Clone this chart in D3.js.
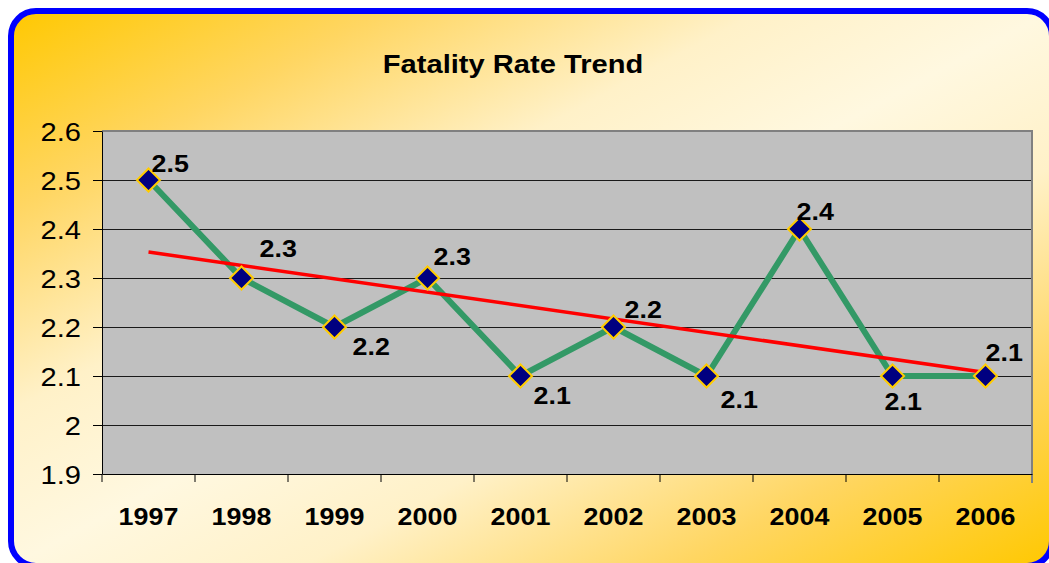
<!DOCTYPE html>
<html>
<head>
<meta charset="utf-8">
<script src="https://cdn.jsdelivr.net/npm/d3@7"></script>
<style>
  body { margin: 0; background: #fff; }
  svg { display: block; font-family: 'Liberation Sans', Arial, sans-serif; }
</style>
</head>
<body>
<svg></svg>
<script>
// chart values
let years = ['1997', '1998', '1999', '2000', '2001', '2002', '2003', '2004', '2005', '2006']
let rates = [2.5, 2.3, 2.2, 2.3, 2.1, 2.2, 2.1, 2.4, 2.1, 2.1]
let yTicks = [1.9, 2, 2.1, 2.2, 2.3, 2.4, 2.5, 2.6]
let trendEnds = [2.353, 2.107]   // linear trend at first and last year
let titleText = 'Fatality Rate Trend'

// where each value label sits relative to its marker
let labelOffsets = [[3, -8], [18, -21], [18, 28], [6, -13], [13, 28],
                    [11, -9], [14, 32], [-3, -9], [-8, 34], [0, -15]]

window.addEventListener('DOMContentLoaded', () => {
  let svgWidth = 1049
  let svgHeight = 563
  let plot = { left: 102, right: 1032, top: 131, bottom: 474 }
  let stretch = 1.12

  let svg = d3.select('svg')
      .attr('width', svgWidth)
      .attr('height', svgHeight)

  /* Background gradient */
  let grad = svg.append('defs')
    .append('linearGradient')
      .attr('id', 'bg')
      .attr('x1', 0).attr('y1', 0)
      .attr('x2', 1).attr('y2', 1)
  let stops = [[0, '#ffc800'], [0.18, '#ffd662'], [0.36, '#fff1c8'], [0.5, '#fff8e0'],
               [0.64, '#fff1c8'], [0.82, '#ffd662'], [1, '#ffc800']]
  grad.selectAll('stop')
    .data(stops)
    .enter()
    .append('stop')
      .attr('offset', d => d[0])
      .attr('stop-color', d => d[1])

  svg.append('rect')
      .attr('x', 11).attr('y', 11)
      .attr('width', 1041).attr('height', 555)
      .attr('rx', 25)
      .attr('fill', 'url(#bg)')
      .attr('stroke', '#0000ff')
      .attr('stroke-width', 6)

  /* Title */
  svg.append('text')
      .attr('transform', `translate(513, 73) scale(${stretch}, 1)`)
      .attr('text-anchor', 'middle')
      .style('font-weight', 'bold')
      .style('font-size', '26px')
      .text(titleText)

  /* Scales */
  let xScale = d3.scaleBand()
                  .domain(years)
                  .range([plot.left, plot.right])
  let xMid = d => xScale(d) + xScale.bandwidth() / 2

  let yScale = d3.scaleLinear()
                  .domain([1.9, 2.6])
                  .range([plot.bottom, plot.top])

  /* Plot area */
  svg.append('rect')
      .attr('x', plot.left)
      .attr('y', plot.top)
      .attr('width', plot.right - plot.left)
      .attr('height', plot.bottom - plot.top)
      .attr('fill', '#c0c0c0')

  /* Gridlines */
  svg.append('g')
    .selectAll('line')
    .data(yTicks.slice(1, -1))
    .enter()
    .append('line')
      .attr('x1', plot.left)
      .attr('x2', plot.right)
      .attr('y1', d => Math.round(yScale(d)) + 0.5)
      .attr('y2', d => Math.round(yScale(d)) + 0.5)
      .attr('stroke', '#1a1a1a')
      .attr('stroke-width', 1)

  /* Plot border (top and right) */
  svg.append('path')
      .attr('d', `M${plot.left},${plot.top}H${plot.right}V${plot.bottom + 9}`)
      .attr('fill', 'none')
      .attr('stroke', '#808080')
      .attr('stroke-width', 2)

  /* y-axis */
  let yAxis = d3.axisLeft(yScale)
                .tickValues(yTicks)
                .tickSize(9)
                .tickSizeOuter(0)
                .tickFormat(d3.format('~g'))
  svg.append('g')
      .attr('transform', `translate(${plot.left}, 0)`)
      .call(yAxis)
      .call(g => g.select('.domain').attr('stroke', '#000'))
    .selectAll('text')
      .attr('x', 0)
      .attr('dy', '0.35em')
      .attr('transform', `translate(-21, 0) scale(${stretch}, 1)`)
      .attr('fill', '#000')
      .style('font-size', '26px')
      .style('font-family', "'Liberation Sans', Arial, sans-serif")

  /* x-axis: labels at band centres, ticks at band edges */
  let xAxis = d3.axisBottom(xScale)
                .tickSize(0)
                .tickSizeOuter(0)
  svg.append('g')
      .attr('transform', `translate(0, ${plot.bottom})`)
      .call(xAxis)
      .call(g => g.select('.domain').attr('stroke', '#000'))
    .selectAll('text')
      .attr('y', 0)
      .attr('dy', 0)
      .attr('transform', `translate(0, 51) scale(${stretch}, 1)`)
      .attr('x', 0)
      .attr('fill', '#000')
      .style('font-size', '24px')
      .style('font-weight', 'bold')
      .style('font-family', "'Liberation Sans', Arial, sans-serif")

  svg.append('g')
    .selectAll('line')
    .data(years)
    .enter()
    .append('line')
      .attr('x1', d => xScale(d))
      .attr('x2', d => xScale(d))
      .attr('y1', plot.bottom)
      .attr('y2', plot.bottom + 8)
      .attr('stroke', '#000')

  /* Data line */
  let line = d3.line()
                .x((d, i) => xMid(years[i]))
                .y(d => yScale(d))
  svg.append('path')
      .datum(rates)
      .attr('d', line)
      .attr('fill', 'none')
      .attr('stroke', '#339966')
      .attr('stroke-width', 6)
      .attr('stroke-linejoin', 'miter')

  /* Trend line */
  svg.append('line')
      .attr('x1', xMid(years[0]))
      .attr('y1', yScale(trendEnds[0]))
      .attr('x2', xMid(years[years.length - 1]))
      .attr('y2', yScale(trendEnds[1]))
      .attr('stroke', '#ff0000')
      .attr('stroke-width', 3.5)

  /* Markers */
  let diamond = d3.symbol().type(d3.symbolDiamond2).size(340)
  svg.append('g')
    .selectAll('path')
    .data(rates)
    .enter()
    .append('path')
      .attr('d', diamond)
      .attr('transform', (d, i) => `translate(${xMid(years[i])}, ${yScale(d)})`)
      .attr('fill', '#000080')
      .attr('stroke', '#ffcc00')
      .attr('stroke-width', 2)

  /* Value labels */
  svg.append('g')
    .selectAll('text')
    .data(rates)
    .enter()
    .append('text')
      .attr('transform', (d, i) => `translate(${xMid(years[i]) + labelOffsets[i][0]}, ${yScale(d) + labelOffsets[i][1]}) scale(${stretch}, 1)`)
      .style('font-size', '24px')
      .style('font-weight', 'bold')
      .text(d => d3.format('.1f')(d))
})
</script>
</body>
</html>
